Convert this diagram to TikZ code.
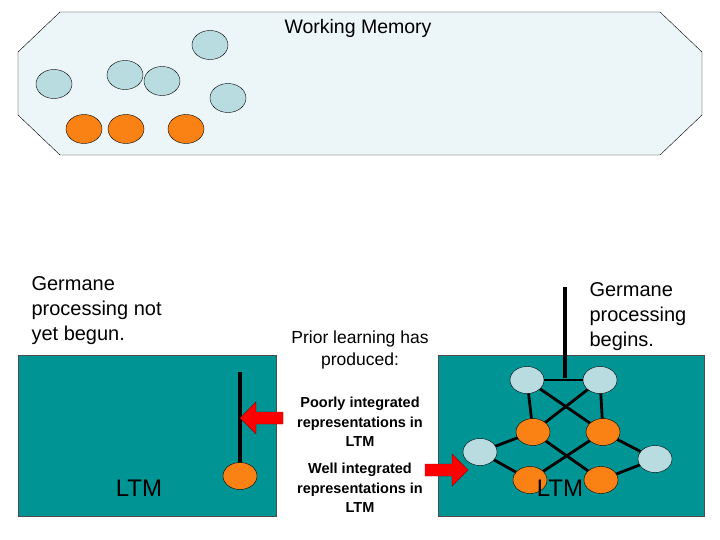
\documentclass[tikz,border=0pt]{standalone}
\usepackage{fontspec}
\setmainfont{Liberation Sans}
\usetikzlibrary{shapes.geometric}
\begin{document}
\begin{tikzpicture}[x=1pt,y=-1pt,
 lb/.style={ellipse,draw=black,fill=lightb,minimum width=36pt,minimum height=29pt,inner sep=0},
 lbs/.style={ellipse,draw=black,fill=lightb,minimum width=34pt,minimum height=27pt,inner sep=0},
 og/.style={ellipse,draw=black,fill=orng,minimum width=36pt,minimum height=29pt,inner sep=0},
 ogs/.style={ellipse,draw=black,fill=orng,minimum width=34pt,minimum height=27pt,inner sep=0},
 big/.style={font=\fontsize{20}{25}\selectfont,align=left},
 sm/.style={font=\fontsize{14.5}{19.5}\selectfont\bfseries,align=center},
 panel/.style={draw=black!70,fill=tealc},
 edge/.style={line width=4pt},
 net/.style={line width=2.8pt},
 redarrow/.style={fill=red,draw=red!60!black}]
\definecolor{lightb}{RGB}{185,220,225}
\definecolor{orng}{RGB}{250,130,20}
\definecolor{tealc}{RGB}{0,148,148}
\definecolor{wmfill}{RGB}{236,245,248}
\useasboundingbox (0,0) rectangle (720,540);
\draw[fill=wmfill] (60,12) -- (660,12) -- (702,52) -- (702,115) -- (660,155) -- (60,155) -- (18,115) -- (18,52) -- cycle;
\node[font=\fontsize{19.5}{22}\selectfont] (wm) at (358,28) {Working Memory};
\node[lb] (w1) at (54,84) {};
\node[lb] (w2) at (125,75) {};
\node[lb] (w3) at (162,81) {};
\node[lb] (w4) at (210,45) {};
\node[lb] (w5) at (228,98) {};
\node[og] (w6) at (84,129) {};
\node[og] (w7) at (126,129) {};
\node[og] (w8) at (186,129) {};
% left panel
\draw[panel] (18,355) rectangle (276,516);
\node[big,anchor=north west] (gl) at (28,273) {Germane\\processing not\\yet begun.};
\node[font=\fontsize{24}{26}\selectfont] (ltm1) at (139,488) {LTM};
\coordinate (lt) at (240,372);
\coordinate (lb) at (240,470);
\draw[edge] (lt) -- (lb);
\node[ogs] (lo) at (240,476) {};
% middle text
\node[font=\fontsize{17.5}{22}\selectfont,align=center] (pl) at (360,350) {Prior learning has\\produced:};
\node[sm] (pi) at (360,422) {Poorly integrated\\representations in\\LTM};
\node[sm] (wi) at (360,488) {Well integrated\\representations in\\LTM};
% right panel
\draw[panel] (438,355) rectangle (704,516);
\node[big,anchor=north west] (gr) at (586,279) {Germane\\processing\\begins.};
\coordinate (ct1) at (527,380);
\coordinate (ct2) at (600,380);
\coordinate (cm1) at (533,432);
\coordinate (cm2) at (603,432);
\coordinate (cs1) at (480,452);
\coordinate (cs2) at (655,459);
\coordinate (cb1) at (530,480);
\coordinate (cb2) at (601,480);
\coordinate (top) at (565,287);
\coordinate (jn) at (565,378);
\draw[edge] (top) -- (jn);
\draw[net] (ct1) -- (ct2);
\draw[net] (ct1) -- (cm1);
\draw[net] (ct2) -- (cm2);
\draw[net] (ct1) -- (cm2);
\draw[net] (ct2) -- (cm1);
\draw[net] (cm1) -- (cs1);
\draw[net] (cm2) -- (cs2);
\draw[net] (cs1) -- (cb1);
\draw[net] (cs2) -- (cb2);
\draw[net] (cm1) -- (cb2);
\draw[net] (cm2) -- (cb1);
\node[lbs] (t1) at (ct1) {};
\node[lbs] (t2) at (ct2) {};
\node[ogs] (m1) at (cm1) {};
\node[ogs] (m2) at (cm2) {};
\node[lbs] (s1) at (cs1) {};
\node[lbs] (s2) at (cs2) {};
\node[ogs] (b1) at (cb1) {};
\node[ogs] (b2) at (cb2) {};
\node[font=\fontsize{24}{26}\selectfont] (ltm2) at (560,488) {LTM};
% arrows
\draw[redarrow] (283,412) -- (256,412) -- (256,402) -- (240,418) -- (256,434) -- (256,424) -- (283,424) -- cycle;
\draw[redarrow] (425,464) -- (452,464) -- (452,454) -- (468,470) -- (452,486) -- (452,476) -- (425,476) -- cycle;
\end{tikzpicture}
\end{document}
